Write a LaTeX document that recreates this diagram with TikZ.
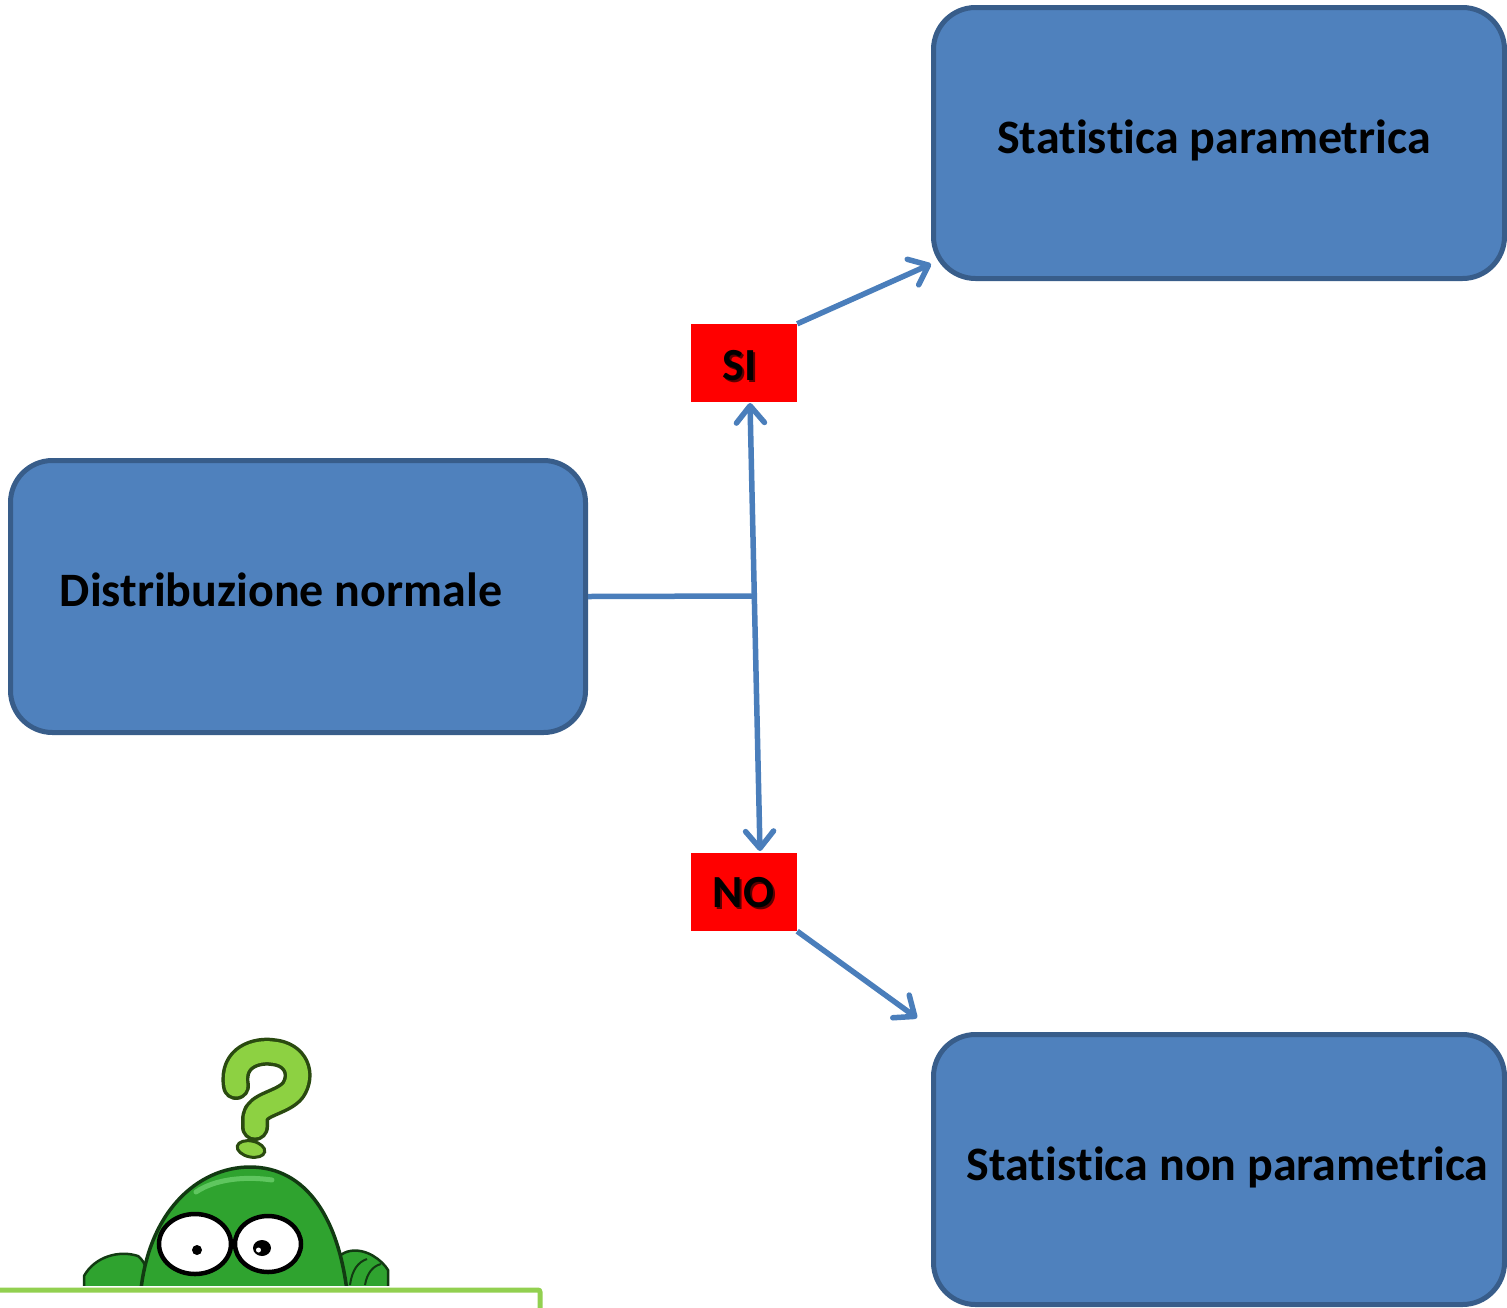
\documentclass[tikz,border=0pt]{standalone}
\usepackage{fontspec}
\setmainfont{Carlito}[Ligatures={NoCommon,NoContextual,NoRare}]
\usetikzlibrary{arrows.meta}
\newcommand{\nolig}{\kern0pt }
\definecolor{boxfill}{HTML}{4F81BD}
\definecolor{boxdraw}{HTML}{385D8A}
\definecolor{arrowblue}{HTML}{4A7EBB}
\definecolor{flagred}{HTML}{FF0000}
\definecolor{shadowred}{HTML}{5A0000}
\definecolor{lime}{HTML}{92D050}
\definecolor{chargreen}{HTML}{2FA32F}
\definecolor{charlight}{HTML}{5FC65F}
\definecolor{chardark}{HTML}{123A12}
\definecolor{qgreen}{HTML}{8DD142}
\definecolor{qdark}{HTML}{2A4A10}
\tikzset{
  bigbox/.style={draw=boxdraw, fill=boxfill, line width=5pt, rounded corners=42pt, inner sep=0pt},
  boxtext/.style={font=\fontsize{48}{58}\selectfont\bfseries, text=black, inner sep=0pt},
  flag/.style={fill=flagred, minimum width=106pt, minimum height=78pt, inner sep=0pt},
  flagtext/.style={font=\fontsize{46}{55}\selectfont\bfseries, inner sep=0pt},
  conn/.style={draw=arrowblue, line width=5.5pt},
  tipped/.style={-{Straight Barb[length=17pt,width=28pt,round]}},
  bothtipped/.style={{Straight Barb[length=17pt,width=28pt,round]}-{Straight Barb[length=17pt,width=28pt,round]}},
  eyeball/.style={fill=white, draw=black, line width=4.5pt},
}
\begin{document}
\begin{tikzpicture}[x=1pt,y=-1pt]
\useasboundingbox (0,0) rectangle (1507,1307);
\clip (0,0) rectangle (1507,1307);

% main boxes
\node[bigbox, minimum width=571pt, minimum height=271pt] (param) at (1219,143) {};
\node[bigbox, minimum width=575pt, minimum height=272pt] (dist) at (298,596.5) {};
\node[bigbox, minimum width=571pt, minimum height=270pt] (nonparam) at (1219,1169.5) {};

\node[boxtext, anchor=base] (tparam) at (1214,153) {Stat\nolig is\nolig t\nolig ica parametrica};
\node[boxtext, anchor=base] (tdist) at (281,606) {Distribuzione normale};
\node[boxtext, anchor=base] (tnonparam) at (1227.5,1180) {Stat\nolig is\nolig t\nolig ica non parametrica};

% decision flags
\node[flag] (si) at (744,363) {};
\node[flag] (no) at (744,892) {};
\node[flagtext, text=shadowred, anchor=base] (sishadow) at (741.5,382.5) {SI};
\node[flagtext, text=black, anchor=base] (sitext) at (739.5,380.5) {SI};
\node[flagtext, text=shadowred, anchor=base] (noshadow) at (745.5,909.5) {NO};
\node[flagtext, text=black, anchor=base] (notext) at (743.5,907.5) {NO};

% connectors
\coordinate (junction) at (754.3,596);
\coordinate (siin) at (750,403);
\coordinate (noin) at (760,851);
\coordinate (paramin) at (931,264);
\coordinate (nonparamin) at (917,1018);
\draw[conn] (dist.east) -- (junction);
\draw[conn, bothtipped] (siin) -- (noin);
\draw[conn, tipped] (si.north east) -- (paramin);
\draw[conn, tipped] (no.south east) -- (nonparamin);

% green frame at the bottom
\draw[lime, line width=5pt, rounded corners=2pt] (-10,1290) -- (540,1290) -- (540,1320);

% cartoon character
\begin{scope}
\clip (80,1030) rectangle (392,1285);
% hands
\path[fill=chargreen, draw=chardark, line width=2.5pt]
  (84,1300) -- (84,1276) .. controls (95,1256) and (120,1250) .. (138,1256)
  .. controls (146,1262) and (150,1275) .. (152,1300) -- cycle;
\path[fill=chargreen, draw=chardark, line width=2.5pt]
  (324,1300) .. controls (326,1272) and (334,1254) .. (350,1251)
  .. controls (366,1248) and (382,1260) .. (388,1270) -- (388,1300) -- cycle;
\draw[chardark, line width=2pt] (350,1285) .. controls (352,1270) and (358,1262) .. (367,1259);
\draw[chardark, line width=2pt] (365,1285) .. controls (367,1273) and (373,1266) .. (381,1264);
% head
\path[fill=chargreen, draw=chardark, line width=3.5pt]
  (140,1300) .. controls (146,1212) and (198,1167) .. (250,1167)
  .. controls (306,1167) and (340,1218) .. (348,1300) -- cycle;
\draw[charlight, line width=5pt, line cap=round] (196,1192) .. controls (215,1179) and (245,1176) .. (272,1180);
% eyes
\draw[eyeball] (195,1244) ellipse [x radius=36pt, y radius=30pt];
\draw[eyeball] (268,1244) ellipse [x radius=33pt, y radius=28pt];
\fill[black] (197,1250) circle [radius=5pt];
\fill[black] (262,1248) ellipse [x radius=9pt, y radius=8pt];
\fill[white] (258.5,1250) circle [radius=2.5pt];
% question mark
\draw[qdark, line width=28pt, line cap=round, line join=round]
  (236,1086) .. controls (231,1056) and (258,1050) .. (272,1052)
  .. controls (297,1054) and (303,1075) .. (293,1090)
  .. controls (283,1103) and (256,1104) .. (255,1118) -- (255,1127);
\draw[qgreen, line width=21pt, line cap=round, line join=round]
  (236,1086) .. controls (231,1056) and (258,1050) .. (272,1052)
  .. controls (297,1054) and (303,1075) .. (293,1090)
  .. controls (283,1103) and (256,1104) .. (255,1118) -- (255,1127);
\draw[fill=qgreen, draw=qdark, line width=3pt, rotate around={-12:(251,1149)}] (251,1149) ellipse [x radius=14pt, y radius=8pt];
\end{scope}
\end{tikzpicture}
\end{document}
